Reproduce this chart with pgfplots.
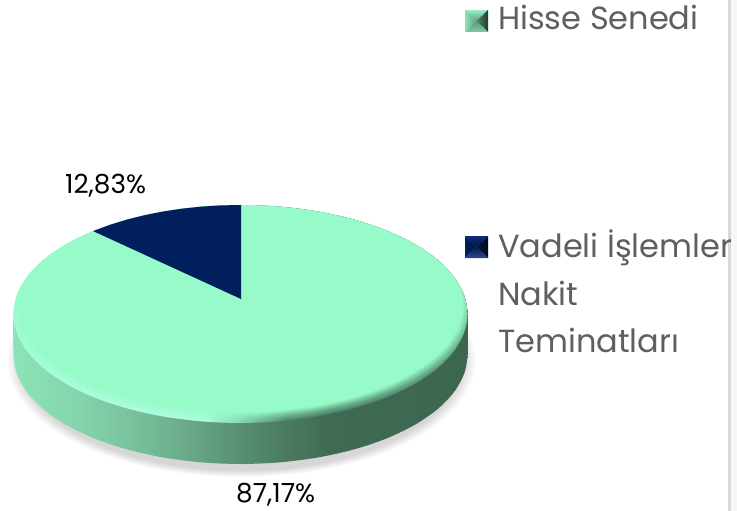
\documentclass[border=0pt]{standalone}
\usepackage{pgfplots}
\pgfplotsset{compat=1.18}
\usepackage{fontspec}
\setmainfont{Poppins}
\usetikzlibrary{fadings,shadings}
\definecolor{mint}{HTML}{97FBC9}
\definecolor{navy}{HTML}{001F5C}
\definecolor{legtext}{HTML}{5F5F5F}
\definecolor{shadowc}{HTML}{D6D6D6}
\definecolor{s0}{HTML}{8CE4B8}
\definecolor{s1}{HTML}{83D3AB}
\definecolor{s2}{HTML}{74BB97}
\definecolor{s3}{HTML}{5F9A7D}
\definecolor{s4}{HTML}{4A7A61}
\definecolor{s5}{HTML}{3F6A54}
\definecolor{s6}{HTML}{3D6650}
\definecolor{b0}{HTML}{B0FDE2}
\pgfdeclarehorizontalshading{sideshade}{100bp}{color(0bp)=(s0);color(25bp)=(s0);color(32.5bp)=(s1);color(40bp)=(s2);color(47.5bp)=(s3);color(55bp)=(s4);color(60bp)=(s5);color(75bp)=(s6);color(100bp)=(s6)}
\pgfdeclarehorizontalshading{edgeshade}{100bp}{color(0bp)=(b0);color(25bp)=(b0);color(46bp)=(b0);color(50bp)=(s1);color(55bp)=(s4);color(60bp)=(s5);color(75bp)=(s6);color(100bp)=(s6)}
\pgfdeclareradialshading{shadowshade}{\pgfpointorigin}{color(0bp)=(shadowc);color(23.5bp)=(shadowc);color(25bp)=(white);color(50bp)=(white)}
\pgfdeclareradialshading{bevelshade}{\pgfpoint{0bp}{4bp}}{color(0bp)=(pgftransparent!0);color(24.3bp)=(pgftransparent!0);color(25.5bp)=(pgftransparent!55);color(26.85bp)=(pgftransparent!100);color(50bp)=(pgftransparent!100)}
\pgfdeclarefading{bevel}{\pgfuseshading{bevelshade}}
\pgfplotstableread{
x y
467.5 314
464.05 332.93
453.81 351.28
437.09 368.5
414.39 384.06
386.42 397.5
354 408.39
318.13 416.43
279.91 421.34
240.5 423
201.09 421.34
162.87 416.43
127 408.39
94.58 397.5
66.61 384.06
43.91 368.5
27.19 351.28
16.95 332.93
13.5 314
16.95 295.07
27.19 276.72
43.91 259.5
66.61 243.94
94.58 230.5
127 219.61
162.87 211.57
201.09 206.66
240.5 205
279.91 206.66
318.13 211.57
354 219.61
386.42 230.5
414.39 243.94
437.09 259.5
453.81 276.72
464.05 295.07
}\topface
\begin{document}
\begin{tikzpicture}
\begin{axis}[
  scale only axis, width=737pt, height=511pt,
  xmin=0, xmax=737, ymin=0, ymax=511, y dir=reverse,
  axis lines=none, clip=true, ticks=none,
]
% canvas
\addplot[draw=none, fill=white, forget plot] coordinates {(0,0) (737,0) (737,511) (0,511)} -- cycle;
% right-hand panel edge
\addplot[draw=none, fill=black!3, forget plot] coordinates {(729,0) (737,0) (737,511) (729,511)} -- cycle;
\addplot[draw=black!15, line width=2.4pt, forget plot] coordinates {(729.5,0) (729.5,511)};
% shadow
\addplot[draw=none, shading=shadowshade, smooth cycle, forget plot] coordinates {
(476,360)(472.43,380.32)(461.83,400.02)(444.5,418.5)(421.01,435.21)(392.06,449.63)(358.5,461.32)(321.37,469.95)(281.8,475.22)(241,477)
(200.2,475.22)(160.63,469.95)(123.5,461.32)(89.94,449.63)(60.99,435.21)(37.5,418.5)(20.17,400.02)(9.57,380.32)(6,360)
(9.57,339.68)(20.17,319.98)(37.5,301.5)(60.99,284.79)(89.94,270.37)(123.5,258.68)(160.63,250.05)(200.2,244.78)(241,243)
(281.8,244.78)(321.37,250.05)(358.5,258.68)(392.06,270.37)(421.01,284.79)(444.5,301.5)(461.83,319.98)(472.43,339.68)};
% side wall
\addplot[draw=none, shading=sideshade, smooth cycle, forget plot] coordinates {
(467.5,355)(464.05,373.93)(453.81,392.28)(437.09,409.5)(414.39,425.06)(386.42,438.5)(354,449.39)(318.13,457.43)(279.91,462.34)(240.5,464)
(201.09,462.34)(162.87,457.43)(127,449.39)(94.58,438.5)(66.61,425.06)(43.91,409.5)(27.19,392.28)(16.95,373.93)(13.5,355)
(13.5,314)(16.95,295.07)(27.19,276.72)(43.91,259.5)(66.61,243.94)(94.58,230.5)(127,219.61)(162.87,211.57)(201.09,206.66)(240.5,205)
(279.91,206.66)(318.13,211.57)(354,219.61)(386.42,230.5)(414.39,243.94)(437.09,259.5)(453.81,276.72)(464.05,295.07)(467.5,314)};
% top face: rim colour, then the flat face fading into it
\addplot[draw=none, shading=edgeshade, smooth cycle, forget plot] table {\topface};
\addplot[draw=none, fill=mint, path fading=bevel, smooth cycle, forget plot] table {\topface};
% navy slice (12.83 %)
\addplot[draw=none, fill=navy, forget plot] coordinates {
(241,299)(93.1,231.1)(110.3,224.71)(127,219.6)(144.57,215.21)(162.86,211.57)(181.75,208.71)(201.08,206.66)(220.72,205.41)(241,205)} -- cycle;
% legend markers
\addplot[draw=none, top color={rgb,255:red,152;green,240;blue,196}, bottom color={rgb,255:red,95;green,159;blue,127}, forget plot] coordinates {(465,10)(488,10)(476.5,21)} -- cycle;
\addplot[draw=none, left color={rgb,255:red,139;green,228;blue,184}, right color={rgb,255:red,95;green,159;blue,127}, forget plot] coordinates {(465,10)(476.5,21)(465,32)} -- cycle;
\addplot[draw=none, left color={rgb,255:red,79;green,138;blue,108}, right color={rgb,255:red,31;green,58;blue,44}, forget plot] coordinates {(488,10)(476.5,21)(488,32)} -- cycle;
\addplot[draw=none, top color={rgb,255:red,90;green,148;blue,117}, bottom color={rgb,255:red,126;green,203;blue,164}, forget plot] coordinates {(465,32)(476.5,21)(488,32)} -- cycle;
\addplot[draw=none, top color={rgb,255:red,14;green,42;blue,120}, bottom color={rgb,255:red,0;green,20;blue,64}, forget plot] coordinates {(465,236)(488,236)(476.5,247)} -- cycle;
\addplot[draw=none, left color={rgb,255:red,0;green,31;blue,96}, right color={rgb,255:red,0;green,20;blue,63}, forget plot] coordinates {(465,236)(476.5,247)(465,258)} -- cycle;
\addplot[draw=none, left color={rgb,255:red,0;green,20;blue,64}, right color={rgb,255:red,0;green,10;blue,32}, forget plot] coordinates {(488,236)(476.5,247)(488,258)} -- cycle;
\addplot[draw=none, top color={rgb,255:red,0;green,26;blue,80}, bottom color={rgb,255:red,45;green,74;blue,143}, forget plot] coordinates {(465,258)(476.5,247)(488,258)} -- cycle;
% labels
\node[anchor=base west, inner sep=0pt, font=\fontsize{26.3}{30}\selectfont, text=black] at (axis cs:65,193) {12,83\%};
\node[anchor=base west, inner sep=0pt, font=\fontsize{26.3}{30}\selectfont, text=black] at (axis cs:236,502) {87,17\%};
\node[anchor=base west, inner sep=0pt, font=\fontsize{32}{36}\selectfont, text=legtext] at (axis cs:498,30) {Hisse Senedi};
\node[anchor=base west, inner sep=0pt, font=\fontsize{32}{36}\selectfont, text=legtext] at (axis cs:498,257) {Vadeli İşlemler};
\node[anchor=base west, inner sep=0pt, font=\fontsize{32}{36}\selectfont, text=legtext] at (axis cs:498,305) {Nakit};
\node[anchor=base west, inner sep=0pt, font=\fontsize{32}{36}\selectfont, text=legtext] at (axis cs:498,352) {Teminatları};
\end{axis}
\end{tikzpicture}
\end{document}
